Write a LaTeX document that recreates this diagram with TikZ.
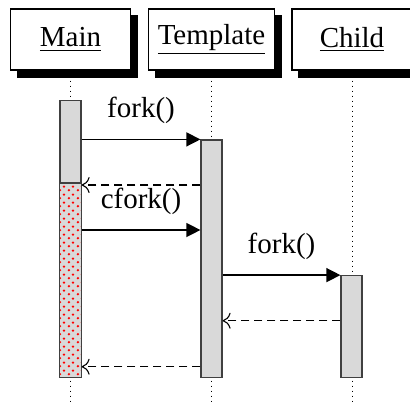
\documentclass[tikz,border=0pt]{standalone}
\usepackage{fontspec}
\setmainfont{Liberation Serif}
\usetikzlibrary{patterns,arrows.meta,positioning,backgrounds}

\pgfdeclarepatternformonly{reddots}{\pgfpointorigin}{\pgfqpoint{4.2pt}{4pt}}{\pgfqpoint{4.2pt}{4pt}}%
{\pgfpathcircle{\pgfqpoint{1pt}{1pt}}{0.7pt}\pgfpathcircle{\pgfqpoint{3.1pt}{3pt}}{0.7pt}\pgfusepath{fill}}

\begin{document}
\begin{tikzpicture}
[x=0.5pt,y=-0.5pt,
 every node/.style={font=\fontsize{14.5}{17}\selectfont},
 actor/.style={shape=rectangle,draw,fill=white,line width=0.6pt,minimum width=60pt,minimum height=30.5pt,inner xsep=4.5pt},
 life/.style={dotted,line width=0.5pt},
 bar/.style={shape=rectangle,draw=black!75,fill=black!15,line width=0.6pt,minimum width=10.5pt,inner sep=0pt},
 call/.style={-{Triangle[length=7pt,width=7pt]},line width=0.65pt},
 reply/.style={-{To[length=4pt,width=8pt]},dash pattern=on 4pt off 2.5pt,line width=0.55pt}]
\useasboundingbox (0,0) rectangle (410,407);
\coordinate (bottom) at (0,405);

% lifelines
\node[actor] (main) at (70.5,39.5) {\underline{Main}};
\node[actor] (tmpl) at (211.5,39.5) {\underline{Template}};
\node[actor] (child) at (352,39.5) {\underline{Child}};
\begin{scope}[on background layer]
\foreach \who in {main,tmpl,child}
  \fill ([shift={(7,7)}]\who.north west) rectangle ([shift={(7,7)}]\who.south east);
\end{scope}
\draw[life] (main.south) -- (main.south |- bottom);
\draw[life] (tmpl.south) -- (tmpl.south |- bottom);
\draw[life] (child.south) -- (child.south |- bottom);

% activations
\node[bar,minimum height=138pt] (mainbar) at (70.5,238.7) {};
\node[bar,minimum height=118.85pt] (tmplbar) at (211.5,258.85) {};
\node[bar,minimum height=51pt] (childbar) at (351.5,326.7) {};
\coordinate (r1) at (0,185);
\coordinate (c2) at (0,230);
\coordinate (r2) at (0,320.7);
\coordinate (r3) at (0,366.7);
\draw[draw=black!75,line width=0.6pt,preaction={fill=black!15},pattern=reddots,pattern color=red]
  (mainbar.west |- 0,183) rectangle (mainbar.south east);

% messages
\draw[call] (mainbar.east |- tmplbar.north) -- (tmplbar.north west) node[midway,above=4pt] {fork()};
\draw[reply] (tmplbar.west |- r1) -- (mainbar.east |- r1);
\draw[call] (mainbar.east |- c2) -- (tmplbar.west |- c2) node[midway,above=4pt] {cfork()};
\draw[call] (tmplbar.east |- childbar.north) -- (childbar.north west) node[midway,above=4pt] {fork()};
\draw[reply] (childbar.west |- r2) -- (tmplbar.east |- r2);
\draw[reply] (tmplbar.west |- r3) -- (mainbar.east |- r3);
\end{tikzpicture}
\end{document}
